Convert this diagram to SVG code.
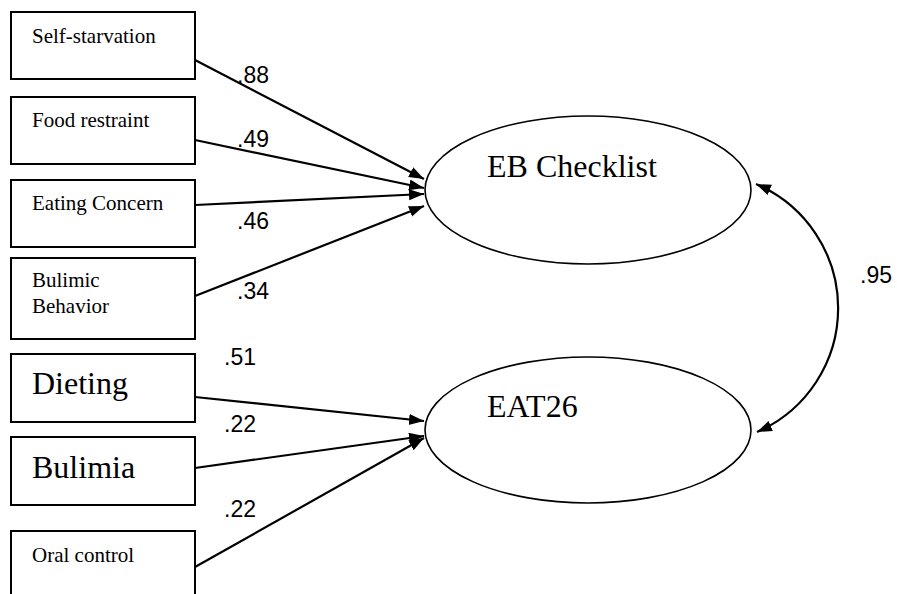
<svg xmlns="http://www.w3.org/2000/svg" width="897" height="594" viewBox="0 0 897 594">
<style>
.box{fill:#fff;stroke:#000;stroke-width:2}
.ell{fill:#fff;stroke:#000;stroke-width:1.6}
.t{font-family:"Liberation Serif","Times New Roman",serif;fill:#000}
.s{font-size:21px}
.b{font-size:32px}
.n{font-family:"Liberation Sans",Arial,sans-serif;font-size:23px;fill:#000}
.c{fill:none;stroke:#000;stroke-width:2.2}
</style>
<defs>
<marker id="ah" markerUnits="userSpaceOnUse" markerWidth="16" markerHeight="12" refX="15" refY="5.5" orient="auto-start-reverse">
<path d="M0,0 L15,5.5 L0,11 Z" fill="#000"/>
</marker>
</defs>
<rect width="897" height="594" fill="#fff"/>
<g id="connectors">
<line class="c" x1="195" y1="60" x2="424" y2="179" marker-end="url(#ah)"/>
<line class="c" x1="195" y1="140" x2="424" y2="188" marker-end="url(#ah)"/>
<line class="c" x1="195" y1="205" x2="424" y2="194" marker-end="url(#ah)"/>
<line class="c" x1="195" y1="296" x2="424" y2="206" marker-end="url(#ah)"/>
<line class="c" x1="195" y1="397" x2="424" y2="421" marker-end="url(#ah)"/>
<line class="c" x1="195" y1="468" x2="424" y2="436" marker-end="url(#ah)"/>
<line class="c" x1="195" y1="567" x2="424" y2="438" marker-end="url(#ah)"/>
<path class="c" d="M756,184 A135,135 0 0 1 757,432" marker-start="url(#ah)" marker-end="url(#ah)"/>
<text class="n" x="237" y="83">.88</text>
<text class="n" x="237" y="147">.49</text>
<text class="n" x="237" y="229">.46</text>
<text class="n" x="237" y="299">.34</text>
<text class="n" x="224" y="365">.51</text>
<text class="n" x="224" y="432">.22</text>
<text class="n" x="224" y="517">.22</text>
<text class="n" x="860" y="283">.95</text>
</g>
<g id="self-starvation"><rect class="box" x="11" y="12" width="184" height="67"/><text class="t s" x="32" y="43">Self-starvation</text></g>
<g id="food-restraint"><rect class="box" x="11" y="97" width="184" height="67"/><text class="t s" x="32" y="127">Food restraint</text></g>
<g id="eating-concern"><rect class="box" x="11" y="180" width="184" height="67"/><text class="t s" x="32" y="210">Eating Concern</text></g>
<g id="bulimic-behavior"><rect class="box" x="11" y="258" width="184" height="81"/><text class="t s" x="32" y="287">Bulimic</text><text class="t s" x="32" y="313">Behavior</text></g>
<g id="dieting"><rect class="box" x="11" y="354" width="184" height="68"/><text class="t b" x="32" y="394">Dieting</text></g>
<g id="bulimia"><rect class="box" x="11" y="437" width="184" height="68"/><text class="t b" x="32" y="478">Bulimia</text></g>
<g id="oral-control"><rect class="box" x="11" y="531" width="184" height="70"/><text class="t s" x="32" y="562">Oral control</text></g>
<g id="eb-checklist"><ellipse class="ell" cx="588" cy="190" rx="163" ry="74"/><text class="t b" x="487" y="177">EB Checklist</text></g>
<g id="eat26"><ellipse class="ell" cx="588" cy="430" rx="163" ry="73"/><text class="t b" x="487" y="417">EAT26</text></g>
</svg>
